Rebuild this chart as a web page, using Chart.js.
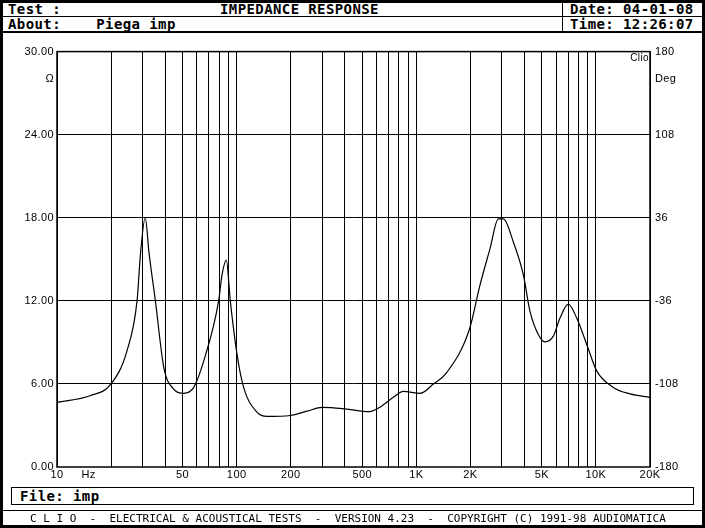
<!DOCTYPE html>
<html><head><meta charset="utf-8">
<script src="https://cdn.jsdelivr.net/npm/chart.js@4/dist/chart.umd.min.js"></script>
<style>
html,body{margin:0;padding:0;background:#fff;}
#page{position:relative;width:705px;height:528px;overflow:hidden;font-family:"DejaVu Sans Mono",monospace;font-weight:bold;font-size:14px;letter-spacing:0.4px;color:#000;}
.box{position:absolute;border:1px solid #000;box-sizing:border-box;}
.t{position:absolute;white-space:pre;line-height:14px;}
#frame{position:absolute;left:0;top:0;width:705px;height:528px;border:3px solid #000;box-sizing:border-box;}
</style></head><body>
<div id="page">
<div class="box" style="left:3px;top:2px;width:699px;height:31px;border-width:0 0 2px 0"></div>
<div class="box" style="left:3px;top:16px;width:699px;height:1px;border-width:1px 0 0 0"></div>
<div class="box" style="left:562px;top:2px;width:1px;height:30px;border-width:0 0 0 1px"></div>
<div class="t" style="left:8px;top:2px">Test :</div>
<div class="t" style="left:220px;top:2px">IMPEDANCE RESPONSE</div>
<div class="t" style="left:8px;top:17px">About:    Piega imp</div>
<div class="t" style="left:570px;top:2px">Date: 04-01-08</div>
<div class="t" style="left:570px;top:17px">Time: 12:26:07</div>
<canvas id="c" width="705" height="440" style="position:absolute;left:0;top:40px;width:705px;height:440px"></canvas>
<div class="box" style="left:11px;top:487px;width:683px;height:18px;"></div>
<div class="t" style="left:20px;top:489px">File: imp</div>
<div class="box" style="left:3px;top:510px;width:699px;height:1px;border-width:1px 0 0 0"></div>
<div class="t" style="left:30px;top:512px;font-weight:normal;font-size:11px;letter-spacing:0">C L I O  -  ELECTRICAL &amp; ACOUSTICAL TESTS  -  VERSION 4.23  -  COPYRIGHT (C) 1991-98 AUDIOMATICA</div>
<div id="frame"></div>
</div>
<script>
const freqs = [10,15.3,20,24.5,27.9,29.2,31,32.5,35.3,39.3,44.6,50.7,57.7,65.6,79.4,82.9,87.6,92.2,100.5,109.4,129.8,147.5,199,246,300,400,550,628,745,847,1050,1245,1477,1974,2264,2573,2862,3053,3470,3945,4296,4777,5204,5793,6310,7020,7814,8890,10100,12500,15500,20000];
const ohms  = [4.67,5.15,6.0,8.37,12.0,15.5,18.0,15.5,12.0,7.2,5.63,5.32,5.75,7.66,12.0,13.87,14.94,12.0,8.14,5.75,3.96,3.65,3.72,4.03,4.3,4.2,4.0,4.32,5.03,5.46,5.32,5.99,6.82,9.93,13.15,15.77,17.92,17.92,16.25,13.87,11.24,9.57,9.04,9.45,10.76,11.76,10.76,8.85,6.94,5.75,5.28,5.03];
const xTicks = [10,15,20,30,40,50,60,70,80,90,100,200,300,400,500,600,700,800,900,1000,2000,3000,4000,5000,6000,7000,8000,9000,10000,20000];
const xLabels = {10:"10",15:"Hz",50:"50",100:"100",200:"200",500:"500",1000:"1K",2000:"2K",5000:"5K",10000:"10K",20000:"20K"};
const leftTicks = [0,6,12,18,24,28,30];
const leftLabels = {0:"0.00",6:"6.00",12:"12.00",18:"18.00",24:"24.00",28:"\u03A9",30:"30.00"};
const rightTicks = [-180,-108,-36,36,108,156,180];
const rightLabels = {"-180":"-180","-108":"-108","-36":"-36","36":"36","108":"108","156":"Deg","180":"180"};

const cv=document.getElementById('c');
const font={family:"Liberation Sans",size:11};
const clio={id:'clio',afterDraw(ch){const c=ch.ctx,a=ch.chartArea;c.save();c.font='10px "Liberation Sans"';c.fillStyle='#000';c.textAlign='right';c.textBaseline='top';c.fillText('Clio',a.right-1,a.top+2);c.strokeStyle='#000';c.lineWidth=1.5;c.strokeRect(a.left,a.top,a.right-a.left,a.bottom-a.top);c.restore();}};
new Chart(cv,{type:'line',
data:{datasets:[{data:freqs.map((f,i)=>({x:f,y:ohms[i]})),borderColor:'#000',borderWidth:1.2,pointRadius:0,cubicInterpolationMode:'monotone',yAxisID:'y'}]},
options:{responsive:false,animation:false,devicePixelRatio:1,
layout:{padding:{top:8,left:0,right:0,bottom:0}},
plugins:{legend:{display:false},tooltip:{enabled:false}},
scales:{
x:{type:'logarithmic',min:10,max:20000,
 afterBuildTicks(s){s.ticks=xTicks.map(v=>({value:v}));},
 afterFit(s){s.height=13;},
 ticks:{autoSkip:false,maxRotation:0,color:'#000',font,padding:1,callback:(v)=>xLabels[v]||''},
 grid:{color:(c)=>(c.tick&&c.tick.value===15)?'rgba(0,0,0,0)':'#000',lineWidth:1,drawTicks:false},border:{display:false}},
y:{type:'linear',position:'left',min:0,max:30,
 afterBuildTicks(s){s.ticks=leftTicks.map(v=>({value:v}));},
 afterFit(s){s.width=57;},
 ticks:{color:'#000',font,padding:3,callback:(v)=>leftLabels[v]},
 grid:{color:(c)=>(c.tick&&[6,12,18,24].includes(c.tick.value))?'#000':'rgba(0,0,0,0)',drawTicks:false},border:{display:false}},
y2:{type:'linear',position:'right',min:-180,max:180,
 afterBuildTicks(s){s.ticks=rightTicks.map(v=>({value:v}));},
 afterFit(s){s.width=55;},
 ticks:{color:'#000',font,padding:5,callback:(v)=>rightLabels[String(v)]},
 grid:{display:false,drawTicks:false},border:{display:false}}
}},plugins:[clio]});
</script>
</body></html>
